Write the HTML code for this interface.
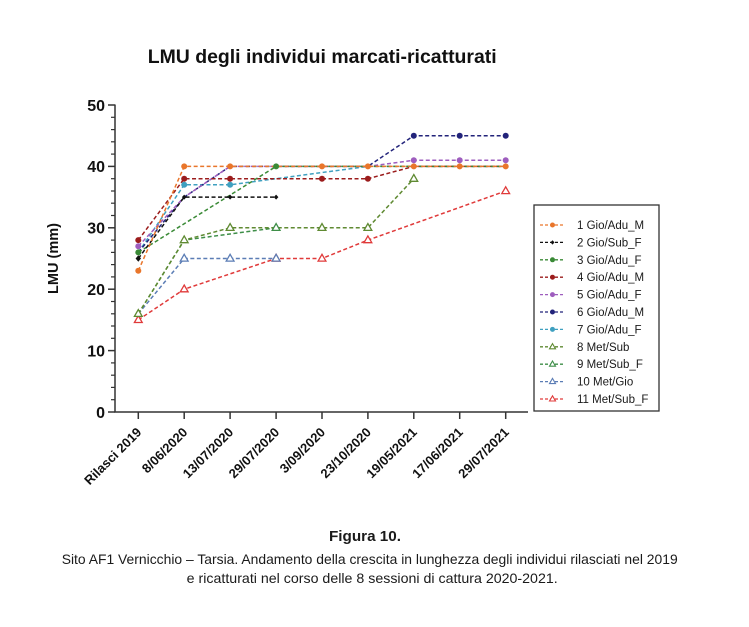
<!DOCTYPE html>
<html><head><meta charset="utf-8"><style>
html,body{margin:0;padding:0;background:#fff;}
svg{display:block;}
</style></head><body>
<svg width="749" height="627" viewBox="0 0 749 627" xmlns="http://www.w3.org/2000/svg" font-family="Liberation Sans, Arial, sans-serif">
<rect width="749" height="627" fill="#fff"/>
<text x="147.7" y="63" font-size="19.5" font-weight="bold" fill="#111" textLength="349" lengthAdjust="spacingAndGlyphs">LMU degli individui marcati-ricatturati</text>

<!-- axes -->
<g stroke="#333" stroke-width="1.5" fill="none">
<line x1="115" y1="104.5" x2="115" y2="412.5"/>
<line x1="114.3" y1="412" x2="528" y2="412"/>
<!-- major y ticks -->
<line x1="108" y1="412" x2="115" y2="412"/>
<line x1="108" y1="350.6" x2="115" y2="350.6"/>
<line x1="108" y1="289.2" x2="115" y2="289.2"/>
<line x1="108" y1="227.8" x2="115" y2="227.8"/>
<line x1="108" y1="166.4" x2="115" y2="166.4"/>
<line x1="108" y1="105" x2="115" y2="105"/>
</g>
<g stroke="#333" stroke-width="1.2">
<line x1="111" y1="399.7" x2="115" y2="399.7"/><line x1="111" y1="387.4" x2="115" y2="387.4"/><line x1="111" y1="375.2" x2="115" y2="375.2"/><line x1="111" y1="362.9" x2="115" y2="362.9"/>
<line x1="111" y1="338.3" x2="115" y2="338.3"/><line x1="111" y1="326" x2="115" y2="326"/><line x1="111" y1="313.8" x2="115" y2="313.8"/><line x1="111" y1="301.5" x2="115" y2="301.5"/>
<line x1="111" y1="276.9" x2="115" y2="276.9"/><line x1="111" y1="264.6" x2="115" y2="264.6"/><line x1="111" y1="252.4" x2="115" y2="252.4"/><line x1="111" y1="240.1" x2="115" y2="240.1"/>
<line x1="111" y1="215.5" x2="115" y2="215.5"/><line x1="111" y1="203.2" x2="115" y2="203.2"/><line x1="111" y1="191" x2="115" y2="191"/><line x1="111" y1="178.7" x2="115" y2="178.7"/>
<line x1="111" y1="154.1" x2="115" y2="154.1"/><line x1="111" y1="141.8" x2="115" y2="141.8"/><line x1="111" y1="129.6" x2="115" y2="129.6"/><line x1="111" y1="117.3" x2="115" y2="117.3"/>
</g>
<!-- x ticks -->
<g stroke="#333" stroke-width="1.5">
<line x1="138.3" y1="412" x2="138.3" y2="419"/><line x1="184.2" y1="412" x2="184.2" y2="419"/><line x1="230.1" y1="412" x2="230.1" y2="419"/>
<line x1="276.1" y1="412" x2="276.1" y2="419"/><line x1="322" y1="412" x2="322" y2="419"/><line x1="367.9" y1="412" x2="367.9" y2="419"/>
<line x1="413.8" y1="412" x2="413.8" y2="419"/><line x1="459.7" y1="412" x2="459.7" y2="419"/><line x1="505.7" y1="412" x2="505.7" y2="419"/>
</g>
<!-- y labels -->
<g font-size="16" font-weight="bold" fill="#111" text-anchor="end">
<text x="105" y="417.8">0</text>
<text x="105" y="356.4">10</text>
<text x="105" y="295">20</text>
<text x="105" y="233.6">30</text>
<text x="105" y="172.2">40</text>
<text x="105" y="110.8">50</text>
</g>
<text transform="translate(58,258.5) rotate(-90)" font-size="14.5" font-weight="bold" fill="#111" text-anchor="middle">LMU (mm)</text>
<!-- x labels -->
<g font-size="13" font-weight="bold" fill="#111" text-anchor="end">
<text transform="translate(142.3,433) rotate(-45)">Rilasci 2019</text>
<text transform="translate(188.2,433) rotate(-45)">8/06/2020</text>
<text transform="translate(234.1,433) rotate(-45)">13/07/2020</text>
<text transform="translate(280.1,433) rotate(-45)">29/07/2020</text>
<text transform="translate(326,433) rotate(-45)">3/09/2020</text>
<text transform="translate(371.9,433) rotate(-45)">23/10/2020</text>
<text transform="translate(417.8,433) rotate(-45)">19/05/2021</text>
<text transform="translate(463.7,433) rotate(-45)">17/06/2021</text>
<text transform="translate(509.7,433) rotate(-45)">29/07/2021</text>
</g>

<!-- series lines -->
<g fill="none" stroke-width="1.5" stroke-dasharray="4 2.5">
<polyline stroke="#E03A3A" points="138.3,319.9 184.2,289.2 276.1,258.5 322,258.5 367.9,240.1 505.7,191"/>
<polyline stroke="#5B7DB5" points="138.3,313.8 184.2,258.5 230.1,258.5 276.1,258.5"/>
<polyline stroke="#3E8E48" points="138.3,313.8 184.2,240.1 276.1,227.8"/>
<polyline stroke="#5F8A32" points="138.3,313.8 184.2,240.1 230.1,227.8 276.1,227.8 322,227.8 367.9,227.8 413.8,178.7"/>
<polyline stroke="#3FA0C0" points="138.3,252.4 184.2,184.8 230.1,184.8 367.9,166.4 413.8,166.4 459.7,166.4 505.7,166.4"/>
<polyline stroke="#22237A" points="138.3,252.4 184.2,197.1 230.1,166.4 367.9,166.4 413.8,135.7 459.7,135.7 505.7,135.7"/>
<polyline stroke="#9E5DBE" points="138.3,246.2 184.2,197.1 230.1,166.4 367.9,166.4 413.8,160.3 459.7,160.3 505.7,160.3"/>
<polyline stroke="#9B1C1C" points="138.3,240.1 184.2,178.7 230.1,178.7 322,178.7 367.9,178.7 413.8,166.4 459.7,166.4 505.7,166.4"/>
<polyline stroke="#3A8A36" points="138.3,252.4 276.1,166.4 322,166.4 367.9,166.4 413.8,166.4 459.7,166.4 505.7,166.4"/>
<polyline stroke="#111" points="138.3,258.5 184.2,197.1 230.1,197.1 276.1,197.1"/>
<polyline stroke="#E9762B" points="138.3,270.8 184.2,166.4 230.1,166.4 322,166.4 367.9,166.4 413.8,166.4 459.7,166.4 505.7,166.4"/>
</g>

<!-- triangle markers -->
<defs>
<path id="tri" d="M0,-4.2 L3.9,2.6 L-3.9,2.6 Z"/>
</defs>
<g fill="#fff" stroke-width="1.3">
<g stroke="#E03A3A">
<use href="#tri" x="138.3" y="319.9"/><use href="#tri" x="184.2" y="289.2"/><use href="#tri" x="276.1" y="258.5"/><use href="#tri" x="322" y="258.5"/><use href="#tri" x="367.9" y="240.1"/><use href="#tri" x="505.7" y="191"/>
</g>
<g stroke="#5B7DB5">
<use href="#tri" x="184.2" y="258.5"/><use href="#tri" x="230.1" y="258.5"/><use href="#tri" x="276.1" y="258.5"/>
</g>
<g stroke="#3E8E48">
<use href="#tri" x="276.1" y="227.8"/>
</g>
<g stroke="#5F8A32">
<use href="#tri" x="138.3" y="313.8"/><use href="#tri" x="184.2" y="240.1"/><use href="#tri" x="230.1" y="227.8"/><use href="#tri" x="322" y="227.8"/><use href="#tri" x="367.9" y="227.8"/><use href="#tri" x="413.8" y="178.7"/>
</g>
</g>

<!-- circle markers -->
<g stroke="none">
<g fill="#3FA0C0"><circle cx="184.2" cy="184.8" r="3"/><circle cx="230.1" cy="184.8" r="3"/></g>
<g fill="#22237A"><circle cx="413.8" cy="135.7" r="3"/><circle cx="459.7" cy="135.7" r="3"/><circle cx="505.7" cy="135.7" r="3"/></g>
<g fill="#9E5DBE"><circle cx="138.3" cy="246.2" r="3"/><circle cx="413.8" cy="160.3" r="3"/><circle cx="459.7" cy="160.3" r="3"/><circle cx="505.7" cy="160.3" r="3"/></g>
<g fill="#9B1C1C"><circle cx="138.3" cy="240.1" r="3"/><circle cx="184.2" cy="178.7" r="3"/><circle cx="230.1" cy="178.7" r="3"/><circle cx="322" cy="178.7" r="3"/><circle cx="367.9" cy="178.7" r="3"/></g>
<g fill="#3A8A36"><circle cx="138.3" cy="252.4" r="3"/><circle cx="276.1" cy="166.4" r="3"/></g>
<g fill="#111"><path d="M138.3,255.3 L141,258.5 L138.3,261.7 L135.6,258.5Z"/><path d="M184.2,194.6 L186.5,197.1 L184.2,199.6 L181.9,197.1Z"/><path d="M230.1,194.6 L232.4,197.1 L230.1,199.6 L227.8,197.1Z"/><path d="M276.1,194.6 L278.4,197.1 L276.1,199.6 L273.8,197.1Z"/></g>
<g fill="#E9762B"><circle cx="138.3" cy="270.8" r="3"/><circle cx="184.2" cy="166.4" r="3"/><circle cx="230.1" cy="166.4" r="3"/><circle cx="322" cy="166.4" r="3"/><circle cx="367.9" cy="166.4" r="3"/><circle cx="413.8" cy="166.4" r="3"/><circle cx="459.7" cy="166.4" r="3"/><circle cx="505.7" cy="166.4" r="3"/></g>
</g>

<!-- legend -->
<rect x="534" y="205" width="125" height="206" fill="#fff" stroke="#333" stroke-width="1.3"/>
<g fill="none" stroke-width="1.3" stroke-dasharray="3 2">
<line x1="540" y1="225" x2="565" y2="225" stroke="#E9762B"/>
<line x1="540" y1="242.4" x2="565" y2="242.4" stroke="#111"/>
<line x1="540" y1="259.8" x2="565" y2="259.8" stroke="#3A8A36"/>
<line x1="540" y1="277.2" x2="565" y2="277.2" stroke="#9B1C1C"/>
<line x1="540" y1="294.6" x2="565" y2="294.6" stroke="#9E5DBE"/>
<line x1="540" y1="312" x2="565" y2="312" stroke="#22237A"/>
<line x1="540" y1="329.4" x2="565" y2="329.4" stroke="#3FA0C0"/>
<line x1="540" y1="346.8" x2="565" y2="346.8" stroke="#5F8A32"/>
<line x1="540" y1="364.2" x2="565" y2="364.2" stroke="#3E8E48"/>
<line x1="540" y1="381.6" x2="565" y2="381.6" stroke="#5B7DB5"/>
<line x1="540" y1="399" x2="565" y2="399" stroke="#E03A3A"/>
</g>
<g>
<circle cx="552.5" cy="225" r="2.5" fill="#E9762B"/>
<path d="M552.5,240.2 L554.5,242.4 L552.5,244.6 L550.5,242.4Z" fill="#111"/>
<circle cx="552.5" cy="259.8" r="2.5" fill="#3A8A36"/>
<circle cx="552.5" cy="277.2" r="2.5" fill="#9B1C1C"/>
<circle cx="552.5" cy="294.6" r="2.5" fill="#9E5DBE"/>
<circle cx="552.5" cy="312" r="2.5" fill="#22237A"/>
<circle cx="552.5" cy="329.4" r="2.5" fill="#3FA0C0"/>
</g>
<g fill="#fff" stroke-width="1.1">
<path d="M552.5,343.6 L555.5,348.8 L549.5,348.8Z" stroke="#5F8A32"/>
<path d="M552.5,361 L555.5,366.2 L549.5,366.2Z" stroke="#3E8E48"/>
<path d="M552.5,378.4 L555.5,383.6 L549.5,383.6Z" stroke="#5B7DB5"/>
<path d="M552.5,395.8 L555.5,401 L549.5,401Z" stroke="#E03A3A"/>
</g>
<g font-size="11.5" fill="#1a1a1a">
<text x="577" y="229">1 Gio/Adu_M</text>
<text x="577" y="246.4">2 Gio/Sub_F</text>
<text x="577" y="263.8">3 Gio/Adu_F</text>
<text x="577" y="281.2">4 Gio/Adu_M</text>
<text x="577" y="298.6">5 Gio/Adu_F</text>
<text x="577" y="316">6 Gio/Adu_M</text>
<text x="577" y="333.4">7 Gio/Adu_F</text>
<text x="577" y="350.8">8 Met/Sub</text>
<text x="577" y="368.2">9 Met/Sub_F</text>
<text x="577" y="385.6">10 Met/Gio</text>
<text x="577" y="403">11 Met/Sub_F</text>
</g>

<!-- caption -->
<text x="365" y="541" font-size="14.5" font-weight="bold" fill="#1a1a1a" text-anchor="middle" textLength="72" lengthAdjust="spacingAndGlyphs">Figura 10.</text>
<text x="61.7" y="564" font-size="14" fill="#1a1a1a" textLength="616" lengthAdjust="spacingAndGlyphs">Sito AF1 Vernicchio – Tarsia. Andamento della crescita in lunghezza degli individui rilasciati nel 2019</text>
<text x="186.7" y="583" font-size="14" fill="#1a1a1a" textLength="371" lengthAdjust="spacingAndGlyphs">e ricatturati nel corso delle 8 sessioni di cattura 2020-2021.</text>
</svg>
</body></html>
